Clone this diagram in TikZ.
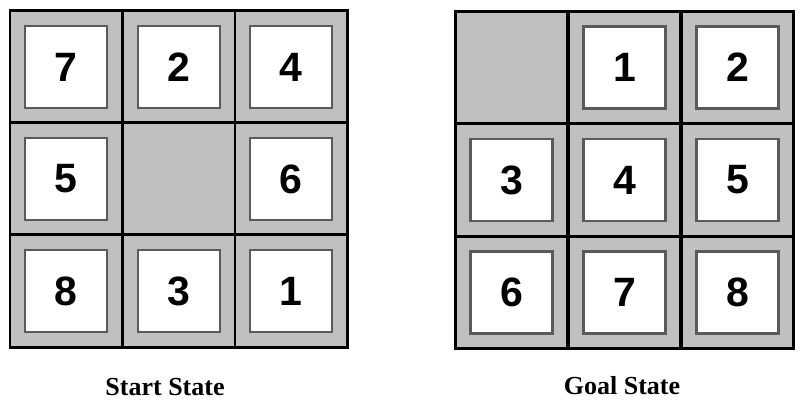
\documentclass[tikz,border=0pt]{standalone}
\usepackage{fontspec}
\setmainfont{Liberation Serif}
\newfontfamily\digitfont{Liberation Sans}
\begin{document}
\begin{tikzpicture}[x=1pt,y=-1pt,
  cellbox/.style={draw=black,line width=2.6pt,fill=tilegray,minimum width=112.5pt,minimum height=112.5pt,inner sep=0pt},
  tilebox/.style={draw=tileedge,line width=2.2pt,fill=white,minimum width=82pt,minimum height=82pt,inner sep=0pt,font=\digitfont\bfseries\fontsize{41}{41}\selectfont},
  caption/.style={font=\bfseries\fontsize{26}{26}\selectfont,inner sep=0pt}]
\definecolor{tilegray}{HTML}{C0C0C0}
\definecolor{tileedge}{HTML}{5A5A5A}
\useasboundingbox (0,0) rectangle (802,406);
% start state
\foreach \r in {0,1,2}{\foreach \c in {0,1,2}{
  \node[cellbox] (s\r\c) at ({66.3+112.4*\c},{67+112*\r}) {};
}}
\foreach \r/\c/\t in {0/0/7,0/1/2,0/2/4,1/0/5,1/2/6,2/0/8,2/1/3,2/2/1}{
  \node[tilebox] (st\r\c) at (s\r\c) {\t};
}
% goal state
\foreach \r in {0,1,2}{\foreach \c in {0,1,2}{
  \node[cellbox] (g\r\c) at ({511.5+113*\c},{67.5+112.5*\r}) {};
}}
\foreach \r/\c/\t in {0/1/1,0/2/2,1/0/3,1/1/4,1/2/5,2/0/6,2/1/7,2/2/8}{
  \node[tilebox] (gt\r\c) at (g\r\c) {\t};
}
\node[caption] (startlbl) at (165,387) {Start State};
\node[caption] (goallbl) at (622,386) {Goal State};
\end{tikzpicture}
\end{document}
